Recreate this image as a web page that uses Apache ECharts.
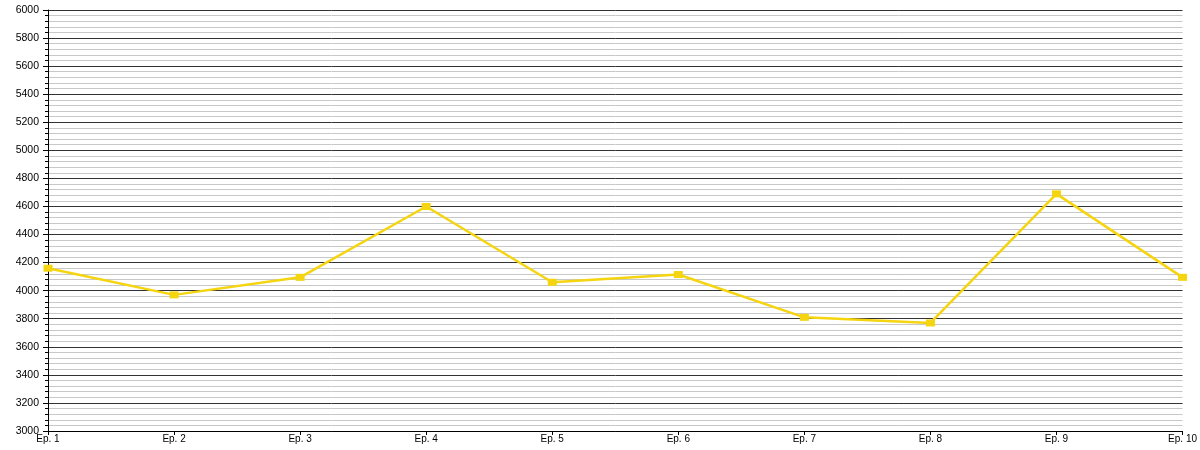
<!DOCTYPE html>
<html>
<head>
<meta charset="utf-8">
<script src="https://cdn.jsdelivr.net/npm/echarts@6/dist/echarts.min.js"></script>
<style>
html,body{margin:0;padding:0;background:#fff;}
#chart{width:1200px;height:450px;}
</style>
</head>
<body>
<div id="chart"></div>
<script>
const categories = ['Ep. 1','Ep. 2','Ep. 3','Ep. 4','Ep. 5','Ep. 6','Ep. 7','Ep. 8','Ep. 9','Ep. 10'];
const viewers = [4160, 3970, 4095, 4600, 4060, 4115, 3810, 3770, 4690, 4095];
const yMin = 3000, yMax = 6000, yStep = 200;

const chart = echarts.init(document.getElementById('chart'), null, {renderer:'canvas'});
chart.setOption({
  animation: false,
  backgroundColor: '#fff',
  grid: {left: 48, right: 14, top: 10, bottom: 19, containLabel: false},
  xAxis: {
    type: 'category',
    data: categories,
    boundaryGap: false,
    axisLine: {lineStyle: {color: '#000', width: 1}},
    axisTick: {show: true, length: 4, lineStyle: {color: '#000'}},
    axisLabel: {color: '#000', fontSize: 10, fontFamily: 'Liberation Sans, Arial, sans-serif', margin: 3, interval: 0},
    splitLine: {show: false}
  },
  yAxis: {
    type: 'value',
    min: yMin, max: yMax, interval: yStep,
    axisLine: {show: true, lineStyle: {color: '#000', width: 1}},
    axisTick: {show: true, length: 5, lineStyle: {color: '#000'}},
    minorTick: {show: true, splitNumber: 5, length: 3, lineStyle: {color: '#000'}},
    axisLabel: {color: '#000', fontSize: 10.5, fontFamily: 'Liberation Sans, Arial, sans-serif', margin: 9,
      formatter: v => String(v)},
    splitLine: {show: true, lineStyle: {color: '#333', width: 1}},
    minorSplitLine: {show: true, lineStyle: {color: '#c8c8c8', width: 1}}
  },
  series: [{
    type: 'line',
    data: viewers,
    symbol: 'rect',
    symbolSize: [9, 7],
    showAllSymbol: true,
    lineStyle: {color: '#F5D410', width: 2.5},
    itemStyle: {color: '#F5D410'},
    z: 5
  }]
});
</script>
</body>
</html>
